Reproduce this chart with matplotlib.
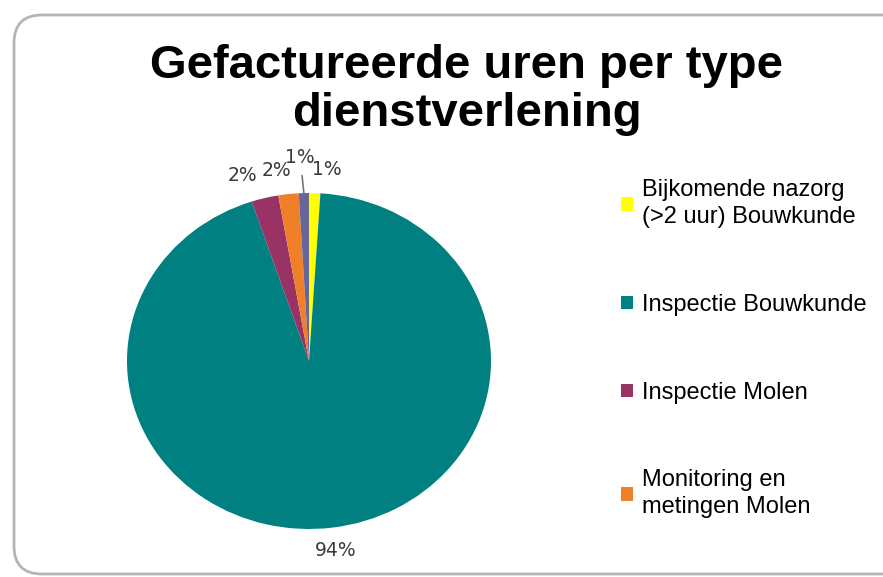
import numpy as np
import matplotlib
matplotlib.use("Agg")
import matplotlib.pyplot as plt
from matplotlib.patches import Patch, FancyBboxPatch
from matplotlib.transforms import IdentityTransform

# =========================================
# DATA
# =========================================
title = "Gefactureerde uren per type\ndienstverlening"
categories = [
    "Bijkomende nazorg\n(>2 uur) Bouwkunde",
    "Inspectie Bouwkunde",
    "Inspectie Molen",
    "Monitoring en\nmetingen Molen",
    "Overig",
]
shares = [1.0, 93.9, 2.4, 1.8, 0.9]
colors = ["#FFFF00", "#008080", "#993366", "#F07F2A", "#666699"]
n_legend = 4  # the legend in the original is cut off after four entries

# =========================================
# FIGURE
# =========================================
W, H = 883, 577
fig = plt.figure(figsize=(W / 100, H / 100), dpi=100)
fig.patch.set_facecolor("white")

# rounded chart frame (runs off the right edge)
frame = FancyBboxPatch(
    (14, 3), 900, 559,
    boxstyle="round,pad=0,rounding_size=28",
    transform=IdentityTransform(),
    facecolor="white", edgecolor="#b5b5b5", linewidth=2.0, zorder=-5,
)
fig.patches.append(frame)

fig.text(467 / W, 1 - 90 / H, title, ha="center", va="center",
         fontsize=34, fontweight="bold", family="Liberation Sans",
         linespacing=1.1)

# pie axis: slightly wider than tall, as in the reference
cx, cy, rx, ry = 309, 361, 182, 168
ax = fig.add_axes([(cx - rx) / W, 1 - (cy + ry) / H, 2 * rx / W, 2 * ry / H])
ax.set_zorder(2)
wedges, _ = ax.pie(shares, colors=colors, startangle=90, counterclock=False,
                   wedgeprops=dict(linewidth=0))
ax.set_aspect("auto")
ax.set_xlim(-1, 1)
ax.set_ylim(-1, 1)

# percent labels, placed from wedge angles
label_kw = dict(ha="center", va="center", fontsize=13.5,
                family="DejaVu Sans", color="#3a3a3a")
offsets = [(0.06, 0.0), (0.0, 0.0), (-0.09, 0.0), (-0.05, 0.0), (0.0, 0.0)]
for i, (w, val) in enumerate(zip(wedges, shares)):
    ang = np.deg2rad((w.theta1 + w.theta2) / 2)
    r = 1.14
    x, y = r * np.cos(ang) + offsets[i][0], r * np.sin(ang) + offsets[i][1]
    txt = f"{val:.0f}%"
    if i == 4:
        # smallest slice: label lifted with a leader line
        ax.annotate(txt, xy=(np.cos(ang), np.sin(ang)),
                    xytext=(np.cos(ang) - 0.02, 1.21),
                    arrowprops=dict(arrowstyle="-", color="#777777", lw=1.2,
                                    shrinkA=4, shrinkB=0),
                    annotation_clip=False, **label_kw)
    else:
        ax.text(x, y, txt, clip_on=False, **label_kw)

# legend
handles = [Patch(facecolor=c, edgecolor="none") for c in colors[:n_legend]]
leg = fig.legend(handles, categories[:n_legend], loc="upper left",
                 bbox_to_anchor=(600 / W, 1 - 158 / H), frameon=False,
                 prop=dict(family="Liberation Sans", size=17),
                 handlelength=0.5, handleheight=0.5, handletextpad=0.4,
                 labelspacing=2.78)
for t in leg.get_texts():
    t.set_linespacing(1.3)

fig.savefig("out.png", dpi=100)
